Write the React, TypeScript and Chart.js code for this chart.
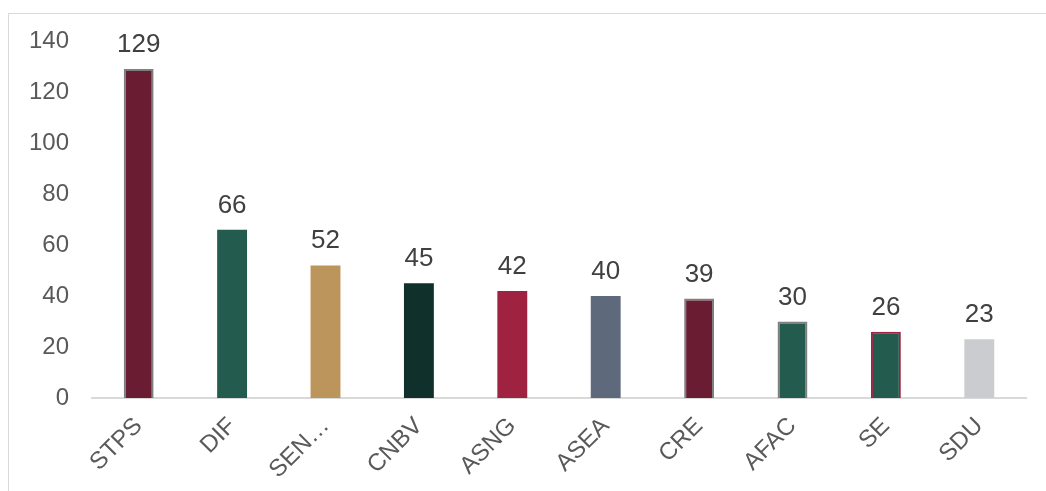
import React, { useEffect, useRef } from "react";
import { Chart, registerables } from "chart.js";

Chart.register(...registerables);

const categories = ["STPS", "DIF", "SEN…", "CNBV", "ASNG", "ASEA", "CRE", "AFAC", "SE", "SDU"];
const values = [129, 66, 52, 45, 42, 40, 39, 30, 26, 23];
const fillColors = ["#691C32", "#235B4E", "#BC955C", "#10312B", "#9F2241", "#5E6A7B", "#691C32", "#235B4E", "#235B4E", "#CBCCCF"];
const edgeColors = ["#7F7F7F", "#235B4E", "#BC955C", "#10312B", "#9F2241", "#5E6A7B", "#7F7F7F", "#7F7F7F", "#9F2241", "#CBCCCF"];
const edgeWidths = [2, 0, 0, 0, 0, 0, 2, 2, 2, 0];
const yTicks = [0, 20, 40, 60, 80, 100, 120, 140];

const FONT = "'Liberation Sans', Arial, sans-serif";

const valueLabels = {
  id: "valueLabels",
  afterDatasetsDraw(chart: any) {
    const ctx = chart.ctx;
    const meta = chart.getDatasetMeta(0);
    ctx.save();
    ctx.font = `26px ${FONT}`;
    ctx.fillStyle = "#404040";
    ctx.textAlign = "center";
    ctx.textBaseline = "alphabetic";
    meta.data.forEach((bar: any, i: number) => {
      ctx.fillText(String(values[i]), bar.x, bar.y - 17);
    });
    ctx.restore();
  },
};

export default function App() {
  const ref = useRef<HTMLCanvasElement | null>(null);
  useEffect(() => {
    if (!ref.current) return;
    const chart = new Chart(ref.current, {
      type: "bar",
      data: {
        labels: categories,
        datasets: [
          {
            data: values,
            backgroundColor: fillColors,
            borderColor: edgeColors,
            borderWidth: edgeWidths,
            barPercentage: 0.32,
            categoryPercentage: 1,
          },
        ],
      },
      options: {
        animation: false,
        responsive: false,
        maintainAspectRatio: false,
        layout: { padding: { left: 8, right: 20, top: 41, bottom: 0 } },
        plugins: { legend: { display: false }, tooltip: { enabled: false } },
        scales: {
          x: {
            grid: { display: false, drawTicks: false },
            border: { display: true, color: "#D9D9D9", width: 2 },
            ticks: {
              color: "#595959",
              font: { size: 24, family: FONT },
              maxRotation: 45,
              minRotation: 45,
              padding: 14,
              autoSkip: false,
            },
            afterFit(scale: any) {
              scale.height = 93;
            },
          },
          y: {
            min: 0,
            max: 140,
            afterBuildTicks(scale: any) {
              scale.ticks = yTicks.map((v) => ({ value: v }));
            },
            grid: { display: false, drawTicks: false },
            border: { display: false },
            ticks: {
              color: "#595959",
              font: { size: 24, family: FONT },
              padding: 23,
            },
            afterFit(scale: any) {
              scale.width = 84;
            },
          },
        },
      },
      plugins: [valueLabels],
    });
    return () => chart.destroy();
  }, []);

  return (
    <div style={{ position: "absolute", left: 0, top: 0, width: 1046, height: 491, overflow: "hidden", background: "#fff" }}>
      <div
        style={{
          position: "absolute",
          left: 8,
          top: 13,
          width: 1100,
          height: 600,
          borderTop: "1px solid #D9D9D9",
          borderLeft: "1px solid #D9D9D9",
        }}
      />
      <canvas ref={ref} width={1046} height={491} style={{ position: "absolute", left: 0, top: 0 }} />
    </div>
  );
}
